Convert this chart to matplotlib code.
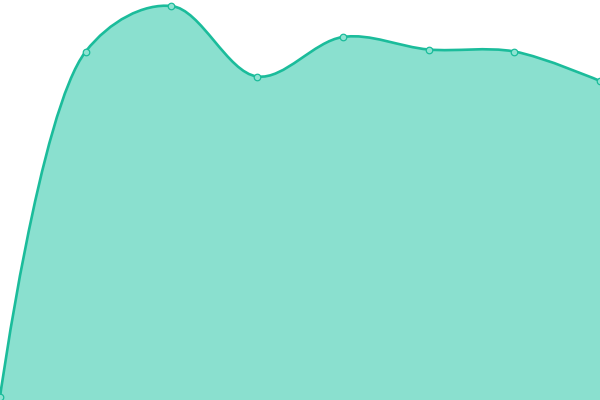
import numpy as np
import matplotlib
matplotlib.use("Agg")
import matplotlib.pyplot as plt
from matplotlib.path import Path
from matplotlib.patches import PathPatch

categories = ["A", "B", "C", "D", "E", "F", "G", "H"]
values = [3, 348.5, 394, 323.5, 363, 350.5, 348.5, 319]

LINE = "#1bbc9b"
FILL = "#8ae0cf"

fig = plt.figure(figsize=(6, 4), dpi=100)
ax = fig.add_axes([0, 0, 1, 1])
ax.set_xlim(0, len(categories) - 1)
ax.set_ylim(0, 400)
ax.axis("off")

xs = np.arange(len(categories), dtype=float)
pts = ax.transData.transform(np.column_stack([xs, values]))


def catmull_rom_path(p, alpha=0.5):
    n = len(p)
    verts = [tuple(p[0])]
    codes = [Path.MOVETO]
    eps = 1e-12
    for i in range(n - 1):
        P0 = p[i - 1] if i > 0 else p[i]
        P1 = p[i]
        P2 = p[i + 1]
        P3 = p[i + 2] if i + 2 < n else p[i + 1]
        l01 = np.hypot(*(P1 - P0))
        l12 = np.hypot(*(P2 - P1))
        l23 = np.hypot(*(P3 - P2))
        l01a, l12a, l23a = l01 ** alpha, l12 ** alpha, l23 ** alpha
        l01_2a, l12_2a, l23_2a = l01a ** 2, l12a ** 2, l23a ** 2
        c0 = P1.copy()
        c1 = P2.copy()
        if l01a > eps:
            a = 2 * l01_2a + 3 * l01a * l12a + l12_2a
            m = 3 * l01a * (l01a + l12a)
            c0 = (P1 * a - P0 * l12_2a + P2 * l01_2a) / m
        if l23a > eps:
            b = 2 * l23_2a + 3 * l23a * l12a + l12_2a
            m = 3 * l23a * (l23a + l12a)
            c1 = (P2 * b + P1 * l23_2a - P3 * l12_2a) / m
        verts += [tuple(c0), tuple(c1), tuple(P2)]
        codes += [Path.CURVE4] * 3
    return np.array(verts), codes


verts_px, codes = catmull_rom_path(pts)
verts = ax.transData.inverted().transform(verts_px)

line_path = Path(verts, codes)
fill_verts = np.vstack([verts, [[xs[-1], 0], [xs[0], 0], verts[0]]])
fill_codes = codes + [Path.LINETO, Path.LINETO, Path.CLOSEPOLY]
ax.add_patch(PathPatch(Path(fill_verts, fill_codes), facecolor=FILL,
                       edgecolor="none", zorder=1))
ax.add_patch(PathPatch(line_path, facecolor="none", edgecolor=LINE,
                       linewidth=1.9, zorder=2, capstyle="round"))
ax.scatter(xs, values, s=22, facecolor="#8fe3d2", edgecolor=LINE,
           linewidth=0.9, zorder=3, clip_on=False)

fig.savefig("out.png", dpi=100)
